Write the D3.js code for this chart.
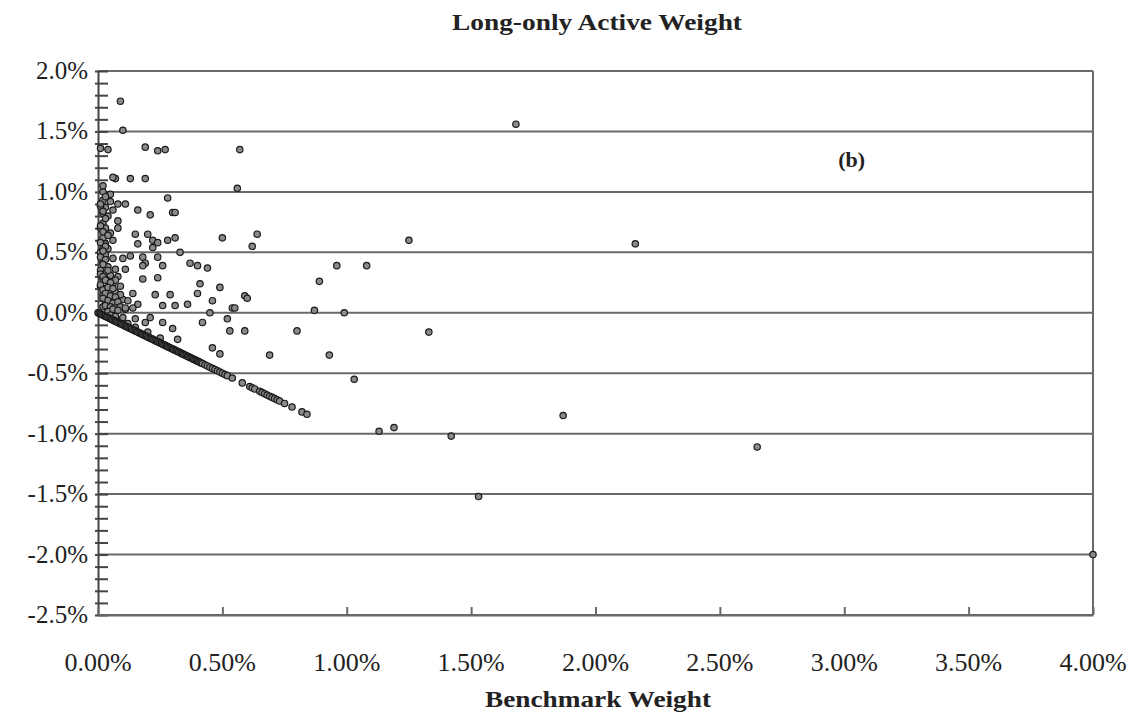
<!DOCTYPE html>
<html>
<head>
<meta charset="utf-8">
<script src="https://cdn.jsdelivr.net/npm/d3@7"></script>
<style>
  html, body { margin: 0; padding: 0; background: #fff; overflow: hidden; }
  svg { display: block; }
  svg text { font-family: "Liberation Serif", "DejaVu Serif", serif; fill: #222; }
</style>
</head>
<body>
<svg id="chart" width="1137" height="717"></svg>
<script>
// Long-only active weight vs benchmark weight, values in percent.
// Stocks held in the portfolio (benchmark weight, active weight).
const heldBenchmark = [
    0.09, 0.10, 0.04, 0.19, 0.24, 0.27, 0.57, 0.56, 1.68,
    0.07, 0.13, 0.19, 0.06, 0.28, 0.08, 0.11, 0.16, 0.21, 0.30, 0.31, 0.08, 0.08, 0.15, 0.20,
    0.16, 0.22, 0.24, 0.28, 0.31, 0.22, 0.33, 0.50, 0.64, 0.62, 1.25, 2.16,
    0.02, 0.10, 0.13, 0.18, 0.24, 0.19, 0.18, 0.26, 0.37, 0.40, 0.44, 0.11, 0.18, 0.24, 0.41,
    0.49, 0.40, 0.59, 0.14, 0.23, 0.29, 0.46, 0.36, 0.26, 0.31, 0.54, 0.16, 0.14, 0.45, 0.52,
    0.42, 0.26, 0.30, 0.53, 0.59,
    0.96, 1.08, 0.89, 0.60, 0.55, 0.87, 0.99, 0.80, 1.33, 0.49, 0.69, 0.93, 1.03, 1.13, 1.19,
    1.42, 1.87, 1.53, 2.65, 4.00,
    0.32, 0.46, 0.09, 0.15, 0.19, 0.21,
    0.02, 0.05, 0.02, 0.03, 0.02, 0.04, 0.02, 0.03, 0.02, 0.04, 0.01, 0.03, 0.06, 0.02, 0.04,
    0.07, 0.03, 0.05, 0.08, 0.02, 0.04, 0.06, 0.09, 0.03, 0.05, 0.07, 0.02, 0.04, 0.06, 0.10,
    0.03, 0.05, 0.08, 0.02, 0.04, 0.06, 0.12, 0.11, 0.01, 0.01, 0.06, 0.05, 0.01, 0.01, 0.07,
    0.09, 0.03, 0.05, 0.06,
    0.10, 0.15, 0.20, 0.25, 0.12, 0.07
];
const heldActive = [
    1.75, 1.51, 1.35, 1.37, 1.34, 1.35, 1.35, 1.03, 1.56,
    1.11, 1.11, 1.11, 1.12, 0.95, 0.90, 0.90, 0.85, 0.81, 0.83, 0.83, 0.76, 0.70, 0.65, 0.65,
    0.57, 0.60, 0.58, 0.60, 0.62, 0.54, 0.50, 0.62, 0.65, 0.55, 0.60, 0.57,
    0.53, 0.45, 0.47, 0.46, 0.46, 0.41, 0.39, 0.39, 0.41, 0.39, 0.37, 0.36, 0.28, 0.29, 0.24,
    0.21, 0.16, 0.14, 0.16, 0.15, 0.15, 0.10, 0.07, 0.06, 0.06, 0.04, 0.07, 0.04, 0.00, -0.05,
    -0.08, -0.08, -0.13, -0.15, -0.15,
    0.39, 0.39, 0.26, 0.12, 0.04, 0.02, 0.00, -0.15, -0.16, -0.34, -0.35, -0.35, -0.55, -0.98, -0.95,
    -1.02, -0.85, -1.52, -1.11, -2.00,
    -0.22, -0.29, -0.07, -0.05, -0.08, -0.04,
    1.00, 0.98, 0.93, 0.87, 0.82, 0.80, 0.74, 0.70, 0.62, 0.53, 0.50, 0.48, 0.45, 0.42, 0.38,
    0.36, 0.33, 0.31, 0.30, 0.28, 0.26, 0.24, 0.22, 0.20, 0.18, 0.17, 0.15, 0.13, 0.12, 0.11,
    0.09, 0.08, 0.06, 0.05, 0.03, 0.02, 0.10, 0.03, 0.70, 0.88, 0.60, 0.66, 0.35, 0.22, 0.27,
    0.15, 0.57, 0.92, 0.85,
    -0.08, -0.12, -0.16, -0.21, -0.09, -0.05
];
// Small holdings packed against the vertical axis.
const smallBenchmark = [
    0.01, 0.02, 0.03, 0.01, 0.02, 0.03, 0.01, 0.02, 0.04, 0.01, 0.03, 0.02, 0.01, 0.03, 0.02,
    0.04, 0.01, 0.02, 0.03, 0.05, 0.01, 0.02, 0.04, 0.06, 0.03, 0.05, 0.07, 0.02, 0.04, 0.06,
    0.08, 0.03, 0.05, 0.07, 0.09, 0.04, 0.06, 0.08, 0.11, 0.05, 0.07, 0.10
];
const smallActive = [
    1.36, 1.05, 0.96, 0.90, 0.84, 0.78, 0.72, 0.67, 0.64, 0.58, 0.55, 0.51, 0.46, 0.44, 0.40,
    0.35, 0.32, 0.30, 0.27, 0.25, 0.23, 0.19, 0.21, 0.20, 0.16, 0.14, 0.13, 0.12, 0.10, 0.08,
    0.09, 0.06, 0.05, 0.04, 0.05, 0.01, 0.03, 0.02, 0.04, -0.02, -0.03, -0.04
];
// Stocks not held: active weight equals minus the benchmark weight.
const notHeldBenchmark = [
    0.00, 0.005, 0.01, 0.015, 0.02, 0.025, 0.03, 0.035, 0.04, 0.045, 0.05, 0.055, 0.06, 0.065, 0.07,
    0.075, 0.08, 0.085, 0.09, 0.095, 0.10, 0.105, 0.11, 0.115, 0.12, 0.125, 0.13, 0.135, 0.14, 0.145,
    0.15, 0.155, 0.16, 0.165, 0.17, 0.175, 0.18, 0.185, 0.19, 0.195, 0.20, 0.205, 0.21, 0.215, 0.22,
    0.225, 0.23, 0.235, 0.24, 0.245, 0.25, 0.255, 0.26, 0.265, 0.27, 0.275, 0.28, 0.285, 0.29, 0.295,
    0.30, 0.305, 0.31, 0.315, 0.32, 0.325, 0.33, 0.335, 0.34, 0.345, 0.35, 0.355, 0.36, 0.365, 0.37,
    0.375, 0.38, 0.385, 0.39, 0.395, 0.40, 0.405, 0.41, 0.415, 0.42, 0.43, 0.44, 0.45, 0.46, 0.47,
    0.48, 0.49, 0.50, 0.51, 0.52, 0.54, 0.58, 0.61, 0.62, 0.63, 0.65, 0.66, 0.67, 0.68, 0.69,
    0.70, 0.71, 0.72, 0.73, 0.75, 0.78, 0.82, 0.84
];
const notHeldActive = [
    0.00, -0.005, -0.01, -0.015, -0.02, -0.025, -0.03, -0.035, -0.04, -0.045, -0.05, -0.055, -0.06, -0.065, -0.07,
    -0.075, -0.08, -0.085, -0.09, -0.095, -0.10, -0.105, -0.11, -0.115, -0.12, -0.125, -0.13, -0.135, -0.14, -0.145,
    -0.15, -0.155, -0.16, -0.165, -0.17, -0.175, -0.18, -0.185, -0.19, -0.195, -0.20, -0.205, -0.21, -0.215, -0.22,
    -0.225, -0.23, -0.235, -0.24, -0.245, -0.25, -0.255, -0.26, -0.265, -0.27, -0.275, -0.28, -0.285, -0.29, -0.295,
    -0.30, -0.305, -0.31, -0.315, -0.32, -0.325, -0.33, -0.335, -0.34, -0.345, -0.35, -0.355, -0.36, -0.365, -0.37,
    -0.375, -0.38, -0.385, -0.39, -0.395, -0.40, -0.405, -0.41, -0.415, -0.42, -0.43, -0.44, -0.45, -0.46, -0.47,
    -0.48, -0.49, -0.50, -0.51, -0.52, -0.54, -0.58, -0.61, -0.62, -0.63, -0.65, -0.66, -0.67, -0.68, -0.69,
    -0.70, -0.71, -0.72, -0.73, -0.75, -0.78, -0.82, -0.84
];
const xTicks = [0, 0.5, 1, 1.5, 2, 2.5, 3, 3.5, 4];
const yTicks = [2, 1.5, 1, 0.5, 0, -0.5, -1, -1.5, -2, -2.5];

const margin = { top: 71, right: 44, bottom: 102, left: 98 };
const width = 1137;
const height = 717;
const innerWidth = width - margin.left - margin.right;
const innerHeight = height - margin.top - margin.bottom;

const points = heldBenchmark.map((x, i) => ({ x: x, y: heldActive[i] }))
    .concat(smallBenchmark.map((x, i) => ({ x: x, y: smallActive[i] })))
    .concat(notHeldBenchmark.map((x, i) => ({ x: x, y: notHeldActive[i] })));

const svg = d3.select("#chart");
const g = svg.append("g").attr("transform", `translate(${margin.left},${margin.top})`);

const x = d3.scaleLinear().domain([0, 4]).range([0, innerWidth]);
const y = d3.scaleLinear().domain([-2.5, 2]).range([innerHeight, 0]);

const pctY = d => d3.format(".1f")(d).replace("\u2212", "-") + "%";
const pctX = d => d3.format(".2f")(d) + "%";

// horizontal gridlines at each major tick
g.selectAll(".grid")
    .data(yTicks)
    .enter()
    .append("line")
    .attr("class", "grid")
    .attr("x1", 0)
    .attr("x2", innerWidth)
    .attr("y1", d => y(d))
    .attr("y2", d => y(d))
    .attr("stroke", "#6a6a6a")
    .attr("stroke-width", 2);

// right border
g.append("line")
    .attr("x1", innerWidth).attr("x2", innerWidth)
    .attr("y1", 0).attr("y2", innerHeight)
    .attr("stroke", "#6a6a6a")
    .attr("stroke-width", 2);

// y axis with minor ticks every 0.1%, crossing the axis line
const yAxis = g.append("g")
    .call(d3.axisLeft(y).tickValues(d3.range(-25, 21).map(d => d / 10)).tickSize(-10).tickSizeOuter(0).tickFormat(""));
yAxis.select(".domain").attr("stroke", "#444").attr("stroke-width", 2);
yAxis.selectAll(".tick line").attr("x1", -3).attr("stroke", "#444").attr("stroke-width", 2);

g.selectAll(".y-label")
    .data(yTicks)
    .enter()
    .append("text")
    .attr("class", "y-label")
    .attr("x", -10)
    .attr("y", d => y(d) + 8)
    .attr("text-anchor", "end")
    .style("font-size", "25px")
    .text(pctY);

// x axis, ticks pointing inward
const xAxis = g.append("g")
    .attr("transform", `translate(0,${innerHeight})`)
    .call(d3.axisBottom(x).tickValues(xTicks).tickSize(-8).tickSizeOuter(0).tickFormat(""));
xAxis.select(".domain").attr("stroke", "#6a6a6a").attr("stroke-width", 2);
xAxis.selectAll(".tick line").attr("stroke", "#6a6a6a").attr("stroke-width", 2);

g.selectAll(".x-label")
    .data(xTicks)
    .enter()
    .append("text")
    .attr("class", "x-label")
    .attr("x", d => x(d))
    .attr("y", innerHeight + 56)
    .attr("text-anchor", "middle")
    .style("font-size", "26px")
    .text(pctX);

// points
g.selectAll("circle")
    .data(points)
    .enter()
    .append("circle")
    .attr("cx", d => x(d.x))
    .attr("cy", d => y(d.y))
    .attr("r", 3.2)
    .attr("fill", "#8a8a8a")
    .attr("stroke", "#1a1a1a")
    .attr("stroke-width", 1.2);

svg.append("text")
    .attr("x", 597)
    .attr("y", 30)
    .attr("text-anchor", "middle")
    .attr("textLength", 290)
    .attr("lengthAdjust", "spacingAndGlyphs")
    .style("font-size", "24px")
    .style("font-weight", "bold")
    .text("Long-only Active Weight");

svg.append("text")
    .attr("x", 598)
    .attr("y", 707)
    .attr("text-anchor", "middle")
    .attr("textLength", 226)
    .attr("lengthAdjust", "spacingAndGlyphs")
    .style("font-size", "24px")
    .style("font-weight", "bold")
    .text("Benchmark Weight");

g.append("text")
    .attr("x", x(3.03))
    .attr("y", y(1.27) + 8)
    .attr("text-anchor", "middle")
    .style("font-size", "22px")
    .style("font-weight", "bold")
    .text("(b)");
</script>
</body>
</html>
